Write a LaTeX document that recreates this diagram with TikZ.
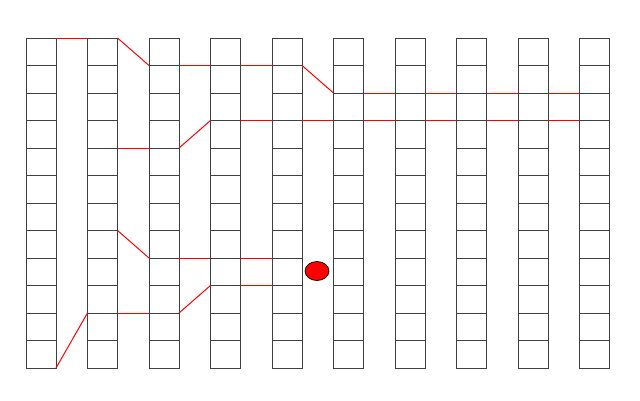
\documentclass[tikz,border=0pt]{standalone}
\usetikzlibrary{shapes.geometric}

\tikzset{
  cell/.style={draw=black!75, line width=.6pt, minimum width=.75cm, minimum height=.6875cm, inner sep=0pt, outer sep=0pt},
  link/.style={red, line width=.7pt},
}

\begin{document}
\begin{tikzpicture}[x=.025cm, y=-.025cm]

                    \useasboundingbox (0,0) rectangle (640,401);

                    % ten stacks of twelve cells
                    \foreach \i in {1,...,10}
                      \foreach \j in {1,...,12}
                        \node[cell] (c\i-\j) at ({41+61.5*(\i-1)}, {51.75+27.5*(\j-1)}) {};

                    \node[ellipse, draw=black, fill=red, line width=.5pt, minimum width=.6cm, minimum height=.475cm, inner sep=0pt] (ball) at (317,271) {};

                    % upper band
                    \draw[link] (c1-1.north east) -- (c2-1.north west);
                    \draw[link] (c2-1.north east) -- (c3-2.north west);
                    \draw[link] (c3-2.north east) -- (c4-2.north west);
                    \draw[link] (c4-2.north east) -- (c5-2.north west);
                    \draw[link] (c5-2.north east) -- (c6-3.north west);
                    \draw[link] (c6-3.north east) -- (c7-3.north west);
                    \draw[link] (c7-3.north east) -- (c8-3.north west);
                    \draw[link] (c8-3.north east) -- (c9-3.north west);
                    \draw[link] (c9-3.north east) -- (c10-3.north west);

                    \draw[link] (c2-5.north east) -- (c3-5.north west);
                    \draw[link] (c3-5.north east) -- (c4-4.north west);
                    \draw[link] (c4-4.north east) -- (c5-4.north west);
                    \draw[link] (c5-4.north east) -- (c6-4.north west);
                    \draw[link] (c6-4.north east) -- (c7-4.north west);
                    \draw[link] (c7-4.north east) -- (c8-4.north west);
                    \draw[link] (c8-4.north east) -- (c9-4.north west);
                    \draw[link] (c9-4.north east) -- (c10-4.north west);

                    % lower band
                    \draw[link] (c2-8.north east) -- (c3-9.north west);
                    \draw[link] (c3-9.north east) -- (c4-9.north west);
                    \draw[link] (c4-9.north east) -- (c5-9.north west);

                    \draw[link] (c1-12.south east) -- (c2-11.north west);
                    \draw[link] (c2-11.north east) -- (c3-11.north west);
                    \draw[link] (c3-11.north east) -- (c4-10.north west);
                    \draw[link] (c4-10.north east) -- (c5-10.north west);
                \end{tikzpicture}
\end{document}
